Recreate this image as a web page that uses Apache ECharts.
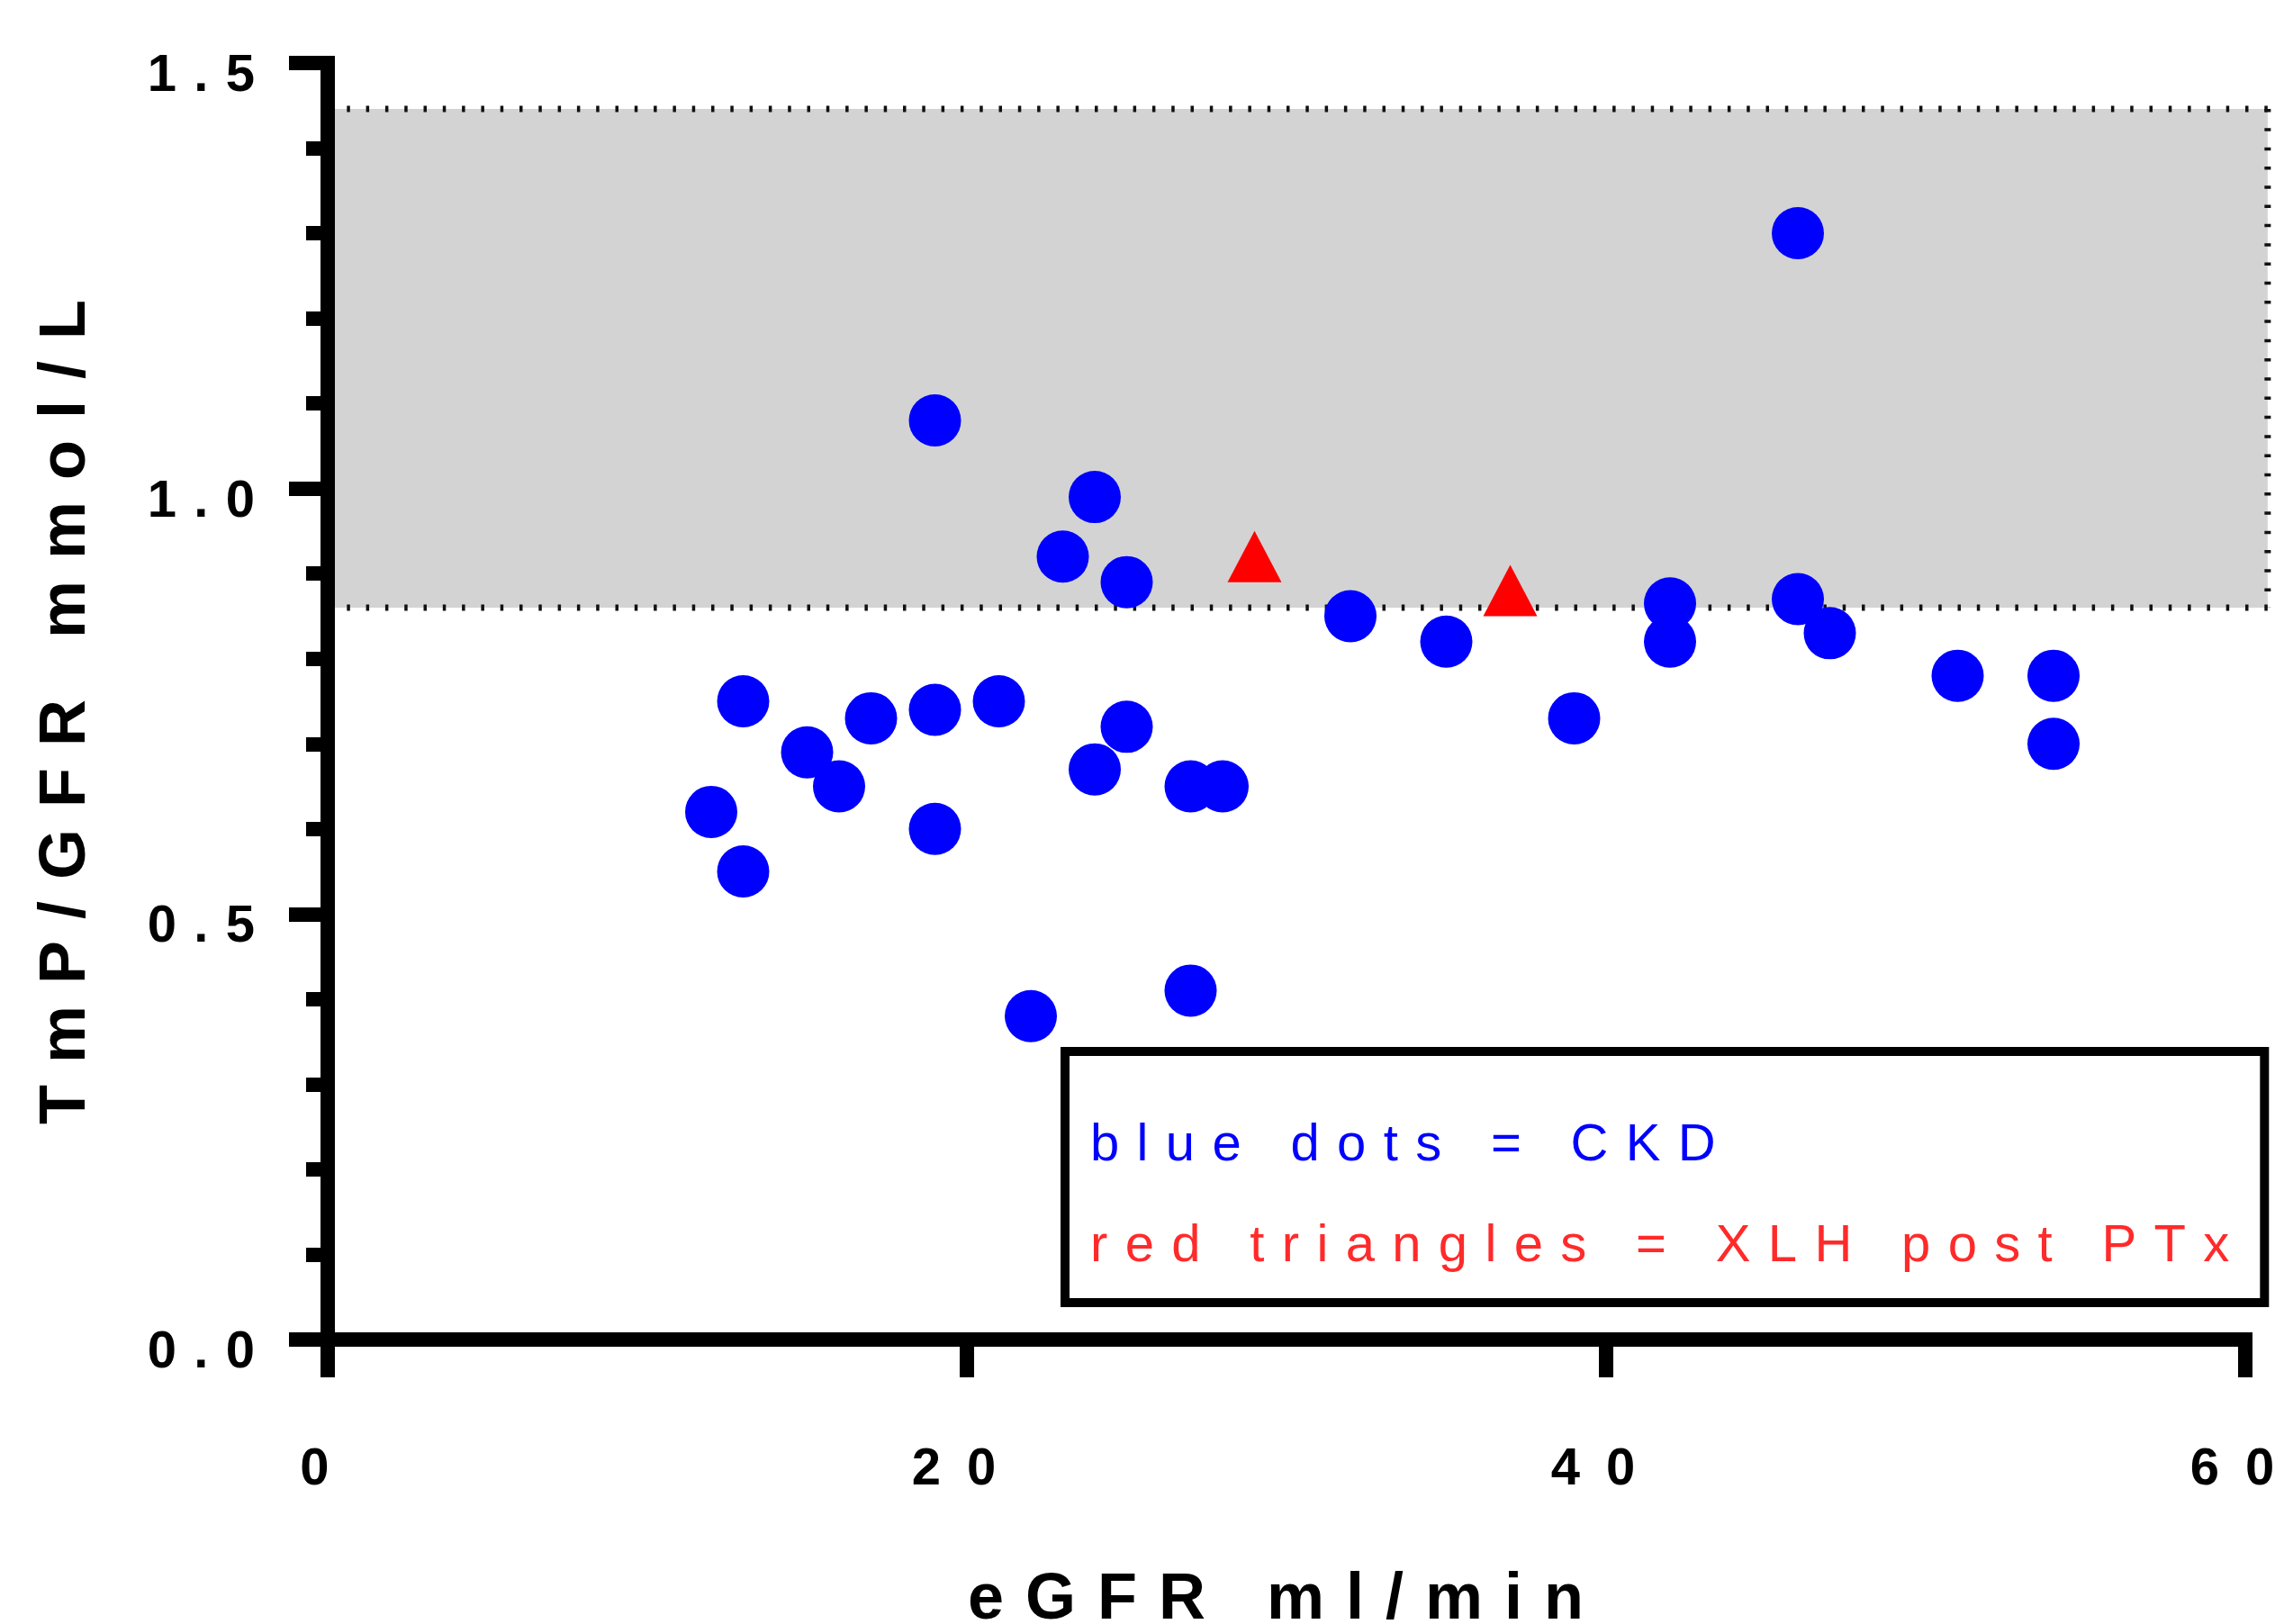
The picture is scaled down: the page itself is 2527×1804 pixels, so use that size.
<!DOCTYPE html>
<html>
<head>
<meta charset="utf-8">
<script src="https://cdn.jsdelivr.net/npm/echarts@6/dist/echarts.min.js"></script>
<style>
  html, body { margin: 0; padding: 0; background: #ffffff; overflow: hidden; }
  #chart { width: 2527px; height: 1804px; }
</style>
</head>
<body>
<div id="chart"></div>
<script>
// ---- data ----
const ckdX = [19, 24, 23, 25, 32, 35, 46, 42, 42, 46, 47, 51, 54, 54, 39, 13, 15, 17, 19, 21, 16, 12, 13, 19, 25, 24, 27, 28, 22, 27];
const ckdY = [1.08, 0.99, 0.92, 0.89, 0.85, 0.82, 1.30, 0.865, 0.82, 0.87, 0.83, 0.78, 0.78, 0.70, 0.73, 0.75, 0.69, 0.73, 0.74, 0.75, 0.65, 0.62, 0.55, 0.60, 0.72, 0.67, 0.65, 0.65, 0.38, 0.41];
const xlhX = [29, 37];
const xlhY = [0.92, 0.88];
const bandY = [0.86, 1.446];
const bandX = [0, 60.7];
const xTickLabels = ['0', '20', '40', '60'];
const yTickLabels = ['0.0', '0.5', '1.0', '1.5'];
const xTitle = 'eGFR ml/min';
const yTitle = 'TmP/GFR mmol/L';
const legendTexts = { 'CKD': 'blue dots = CKD', 'XLH post PTx': 'red triangles = XLH post PTx' };

const FONT = '"Liberation Sans", Arial, Helvetica, sans-serif';
const spaced = (s, sep, tail) => s.split('').join(sep) + (tail ? sep : '');

const chart = echarts.init(document.getElementById('chart'), null, { renderer: 'canvas', width: 2527, height: 1804 });

const dotted = { stroke: '#111', lineWidth: 7, lineDash: [3.5, 17.8] };

const option = {
  backgroundColor: '#ffffff',
  animation: false,
  grid: { left: 364, top: 70, width: 2130, height: 1418, containLabel: false, outerBoundsMode: 'none' },
  xAxis: {
    type: 'value', min: 0, max: 60, interval: 20, z: 10,
    axisLine: { show: true, onZero: false, lineStyle: { color: '#000', width: 16, cap: 'square' } },
    axisTick: { show: true, length: 42, lineStyle: { color: '#000', width: 16 } },
    splitLine: { show: false },
    axisLabel: {
      margin: 116, fontSize: 58, fontWeight: 'bold', color: '#000', fontFamily: FONT,
      hideOverlap: false,
      formatter: (v) => { const i = Math.round(v / 20); return spaced(xTickLabels[i] || '', '\u2002', true); }
    },
    name: spaced(xTitle, '\u2004', true), nameLocation: 'middle', nameGap: 254,
    nameTextStyle: { fontSize: 72, fontWeight: 'bold', color: '#000', fontFamily: FONT }
  },
  yAxis: {
    type: 'value', min: 0, max: 1.5, interval: 0.5, z: 10,
    axisLine: { show: true, onZero: false, lineStyle: { color: '#000', width: 16, cap: 'square' } },
    axisTick: { show: true, length: 43, lineStyle: { color: '#000', width: 16 } },
    minorTick: { show: true, splitNumber: 5, length: 24, lineStyle: { color: '#000', width: 16 } },
    splitLine: { show: false },
    minorSplitLine: { show: false },
    axisLabel: {
      margin: 81, fontSize: 58, fontWeight: 'bold', color: '#000', fontFamily: FONT,
      verticalAlign: 'top', lineHeight: 30,
      formatter: (v) => { const i = Math.round(v / 0.5); return spaced(yTickLabels[i] || '', '\u2004', false); }
    },
    name: spaced(yTitle, '\u2004', true), nameLocation: 'middle', nameGap: 254, nameRotate: 90,
    nameTextStyle: { fontSize: 72, fontWeight: 'bold', color: '#000', fontFamily: FONT }
  },
  legend: {
    orient: 'vertical', left: 1183, top: 1168,
    padding: [70, 39, 27, 23],
    borderColor: '#000', borderWidth: 10, backgroundColor: '#fff',
    itemWidth: 0, itemHeight: 10, itemGap: 42,
    selectedMode: false,
    textStyle: { fontSize: 58, lineHeight: 70, fontFamily: FONT },
    formatter: (name) => spaced(legendTexts[name], '\u2004', false),
    data: [
      { name: 'CKD', icon: 'none', textStyle: { color: '#0000ff' } },
      { name: 'XLH post PTx', icon: 'none', textStyle: { color: '#ff2a2a' } }
    ]
  },
  series: [
    {
      name: 'band', type: 'custom', z: 1, silent: true, clip: false,
      data: [[bandX[0], bandY[0], bandX[1], bandY[1]]],
      renderItem: (params, api) => {
        const p0 = api.coord([api.value(0), api.value(1)]);
        const p1 = api.coord([api.value(2), api.value(3)]);
        const x0 = p0[0], y0 = p1[1], x1 = p1[0], y1 = p0[1];
        return {
          type: 'group',
          children: [
            { type: 'rect', shape: { x: x0, y: y0, width: x1 - x0, height: y1 - y0 }, style: { fill: '#d3d3d3' } },
            { type: 'line', shape: { x1: x0, y1: y0, x2: x1, y2: y0 }, style: dotted },
            { type: 'line', shape: { x1: x0, y1: y1, x2: x1, y2: y1 }, style: dotted },
            { type: 'line', shape: { x1: x1, y1: y0, x2: x1, y2: y1 }, style: dotted }
          ]
        };
      }
    },
    {
      name: 'CKD', type: 'scatter', z: 3,
      symbol: 'circle', symbolSize: 58,
      itemStyle: { color: '#0000ff', opacity: 1 },
      data: ckdX.map((x, i) => [x, ckdY[i]])
    },
    {
      name: 'XLH post PTx', type: 'scatter', z: 4,
      symbol: 'triangle', symbolSize: [60, 57],
      itemStyle: { color: '#ff0000', opacity: 1 },
      data: xlhX.map((x, i) => [x, xlhY[i]])
    }
  ]
};
chart.setOption(option);
</script>
</body>
</html>
